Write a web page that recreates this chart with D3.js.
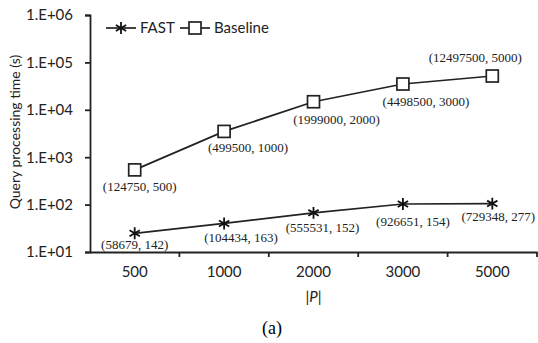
<!DOCTYPE html>
<html>
<head>
<meta charset="utf-8">
<script src="https://cdn.jsdelivr.net/npm/d3@7"></script>
<style>
body { margin:0; background:#fff; }
svg { display:block; }
.tick text { font-family: Lato, sans-serif; font-size:15px; fill:#222; }
.note { font-family: "Liberation Serif", serif; font-size:13px; fill:#222; }
.lbl { font-family: Lato, sans-serif; font-size:15px; fill:#222; }
</style>
</head>
<body>
<svg id="chart" width="538" height="343"></svg>
<script>
var categories = ["500", "1000", "2000", "3000", "5000"];
var fastValues = [24.8, 40, 67, 103, 105];
var baselineValues = [540, 3500, 14800, 35000, 51600];
var fastNotes = ["(58679, 142)", "(104434, 163)", "(555531, 152)", "(926651, 154)", "(729348, 277)"];
var baselineNotes = ["(124750, 500)", "(499500, 1000)", "(1999000, 2000)", "(4498500, 3000)", "(12497500, 5000)"];
var yTicks = [1e1, 1e2, 1e3, 1e4, 1e5, 1e6];
var yTickLabels = ["1.E+01", "1.E+02", "1.E+03", "1.E+04", "1.E+05", "1.E+06"];

// label offsets relative to each point [dx, dy]
var fastNoteOffsets = [[0, 16], [17, 19], [9, 19], [10, 22], [6, 17]];
var baselineNoteOffsets = [[5, 21], [24, 21], [23, 22], [23, 22], [-17, -14]];

function draw() {
    var svg = d3.select("#chart");
    var padding = {top:15, right:1, bottom:91, left:90};
    var chartArea = {
        "width": 538 - padding.left - padding.right,
        "height": 343 - padding.top - padding.bottom
    };

    var xScale = d3.scaleBand()
        .domain(categories)
        .range([0, chartArea.width]);
    var yScale = d3.scaleLog()
        .domain([1e1, 1e6])
        .range([chartArea.height, 0]);

    var g = svg.append("g")
        .attr('transform', 'translate('+padding.left+','+padding.top+')');

    // y axis
    var yAxis = g.append("g")
        .call(d3.axisLeft(yScale).tickValues(yTicks)
            .tickFormat((d, i) => yTickLabels[i]).tickSize(5).tickPadding(12));
    yAxis.select(".domain").attr("stroke", "#222").attr("stroke-width", 1.8);
    yAxis.selectAll(".tick line").attr("stroke", "#222").attr("stroke-width", 1.8);

    // x axis
    var xAxis = g.append("g")
        .attr('transform', 'translate(0,'+chartArea.height+')')
        .call(d3.axisBottom(xScale).tickSize(0).tickPadding(14));
    xAxis.select(".domain").attr("stroke", "#222").attr("stroke-width", 1.8);
    // ticks between categories
    xAxis.selectAll("line.sep").data(categories).enter()
        .append("line")
        .attr("class", "sep")
        .attr("x1", (d) => xScale(d) + xScale.bandwidth())
        .attr("x2", (d) => xScale(d) + xScale.bandwidth())
        .attr("y1", 0).attr("y2", 5)
        .attr("stroke", "#222").attr("stroke-width", 1.8);

    var line = d3.line()
        .x((d, i) => xScale(categories[i]) + xScale.bandwidth()/2)
        .y((d) => yScale(d));

    g.append("path").datum(baselineValues)
        .attr("d", line).attr("fill", "none")
        .attr("stroke", "#222").attr("stroke-width", 1.7);
    g.append("path").datum(fastValues)
        .attr("d", line).attr("fill", "none")
        .attr("stroke", "#222").attr("stroke-width", 1.7);

    var px = (i) => xScale(categories[i]) + xScale.bandwidth()/2;

    // square markers
    g.selectAll("rect.base").data(baselineValues).enter()
        .append("rect")
        .attr("class", "base")
        .attr("x", (d, i) => px(i) - 6)
        .attr("y", (d) => yScale(d) - 6)
        .attr("width", 12).attr("height", 12)
        .attr("fill", "#fff").attr("stroke", "#222").attr("stroke-width", 1.7);

    // star markers
    var star = d3.symbol().type(d3.symbolAsterisk).size(100);
    g.selectAll("path.fast").data(fastValues).enter()
        .append("path")
        .attr("class", "fast")
        .attr("d", star)
        .attr("transform", (d, i) => 'translate('+px(i)+','+yScale(d)+')')
        .attr("fill", "none").attr("stroke", "#111").attr("stroke-width", 1.8);

    // value notes
    g.selectAll("text.bnote").data(baselineValues).enter()
        .append("text")
        .attr("class", "note")
        .attr("text-anchor", "middle")
        .attr("x", (d, i) => px(i) + baselineNoteOffsets[i][0])
        .attr("y", (d, i) => yScale(d) + baselineNoteOffsets[i][1])
        .text((d, i) => baselineNotes[i]);
    g.selectAll("text.fnote").data(fastValues).enter()
        .append("text")
        .attr("class", "note")
        .attr("text-anchor", "middle")
        .attr("x", (d, i) => px(i) + fastNoteOffsets[i][0])
        .attr("y", (d, i) => yScale(d) + fastNoteOffsets[i][1])
        .text((d, i) => fastNotes[i]);

    // legend
    var legend = svg.append("g").attr("transform", "translate(106,28)");
    legend.append("line").attr("x1", 0).attr("x2", 30).attr("y1", 0).attr("y2", 0)
        .attr("stroke", "#222").attr("stroke-width", 1.7);
    legend.append("path").attr("d", star).attr("transform", "translate(15,0)")
        .attr("fill", "none").attr("stroke", "#111").attr("stroke-width", 1.8);
    legend.append("text").attr("class", "lbl").attr("x", 34).attr("y", 5)
        .text("FAST");
    legend.append("line").attr("x1", 74).attr("x2", 104).attr("y1", 0).attr("y2", 0)
        .attr("stroke", "#222").attr("stroke-width", 1.7);
    legend.append("rect").attr("x", 83).attr("y", -6).attr("width", 12).attr("height", 12)
        .attr("fill", "#fff").attr("stroke", "#222").attr("stroke-width", 1.7);
    legend.append("text").attr("class", "lbl").attr("x", 108).attr("y", 5)
        .text("Baseline");

    // axis titles
    svg.append("text").attr("class", "lbl")
        .attr("transform", "translate(20,132) rotate(-90)")
        .attr("text-anchor", "middle")
        .style("font-size", "14px")
        .text("Query processing time (s)");
    var xt = svg.append("text").attr("class", "lbl")
        .attr("x", padding.left + xScale("2000") + xScale.bandwidth()/2).attr("y", 302)
        .attr("text-anchor", "middle");
    xt.append("tspan").text("|");
    xt.append("tspan").style("font-style", "italic").text("P");
    xt.append("tspan").text("|");
    svg.append("text")
        .attr("x", 272).attr("y", 334)
        .attr("text-anchor", "middle")
        .style("font-family", "Liberation Serif, serif").style("font-size", "18px")
        .text("(a)");
}
draw();
</script>
</body>
</html>
